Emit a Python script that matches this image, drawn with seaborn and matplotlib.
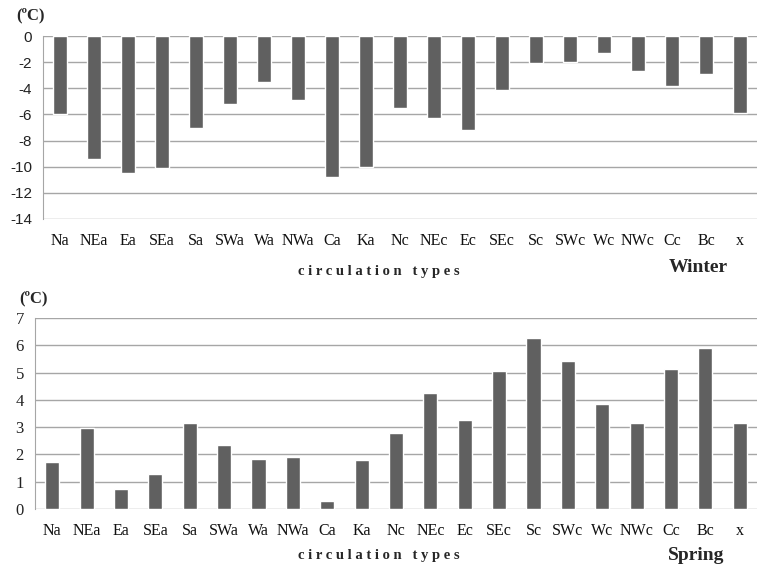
import matplotlib
matplotlib.use("Agg")
import matplotlib.pyplot as plt
import pandas as pd
import seaborn as sns

# circulation types (x axis categories)
types = ["Na", "NEa", "Ea", "SEa", "Sa", "SWa", "Wa", "NWa", "Ca", "Ka",
         "Nc", "NEc", "Ec", "SEc", "Sc", "SWc", "Wc", "NWc", "Cc", "Bc", "x"]

# temperature values (degC)
winter = [-6.0, -9.4, -10.5, -10.1, -7.0, -5.2, -3.5, -4.9, -10.8, -10.0,
          -5.5, -6.3, -7.2, -4.1, -2.1, -2.0, -1.3, -2.7, -3.8, -2.9, -5.9]
spring = [1.72, 2.97, 0.73, 1.28, 3.15, 2.34, 1.84, 1.91, 0.31, 1.81,
          2.79, 4.25, 3.26, 5.05, 6.25, 5.41, 3.85, 3.15, 5.12, 5.9, 3.15]

winter_ticks = list(range(-14, 1, 2))
spring_ticks = list(range(0, 8))

W, H = 757, 567
BAR = "#606060"
GRID = "#a6a6a6"
SERIF = "Liberation Serif"
SANS = "Liberation Sans"


def style_axes(ax, ticks, tick_font, size):
    ax.set_xlim(-0.5, len(types) - 0.5)
    ax.set_ylim(min(ticks), max(ticks))
    ax.set_yticks(ticks)
    ax.set_yticklabels([str(t) for t in ticks], family=tick_font,
                       fontsize=size, color="#222222")
    ax.set_xticks(range(len(types)))
    ax.set_xticklabels(types, family=SERIF, fontsize=11.5, color="#111111")
    ax.tick_params(axis="x", length=0, pad=10)
    ax.tick_params(axis="y", length=5, color=GRID, width=1, pad=3)
    ax.yaxis.grid(True, color=GRID, linewidth=1)
    ax.set_axisbelow(True)
    for side in ["top", "right", "bottom"]:
        ax.spines[side].set_visible(False)
    ax.spines["left"].set_color(GRID)
    ax.set_xlabel("")
    ax.set_ylabel("")


sns.set_style("white")
fig = plt.figure(figsize=(W / 100, H / 100), dpi=100)

# winter panel
ax1 = fig.add_axes([43 / W, 1 - 219 / H, (W - 43) / W, 183 / H])
df_w = pd.DataFrame({"type": types, "value": winter})
sns.barplot(data=df_w, x="type", y="value", color=BAR, width=0.41,
            saturation=1, ax=ax1)
style_axes(ax1, winter_ticks, SANS, 11)

# spring panel
ax2 = fig.add_axes([35 / W, 1 - 509 / H, (W - 35) / W, 191 / H])
df_s = pd.DataFrame({"type": types, "value": spring})
sns.barplot(data=df_s, x="type", y="value", color=BAR, width=0.41,
            saturation=1, ax=ax2)
style_axes(ax2, spring_ticks, SERIF, 12)

# units, axis titles and season labels
unit_kw = dict(family=SERIF, fontsize=12, fontweight="bold", va="center")
fig.text(16 / W, 1 - 15 / H, "(ºC)", **unit_kw)
fig.text(19 / W, 1 - 298 / H, "(ºC)", **unit_kw)

xlab = "c i r c u l a t i o n   t y p e s"
xlab_kw = dict(family=SERIF, fontsize=10.5, fontweight="bold",
               ha="center", va="center")
fig.text(379 / W, 1 - 271 / H, xlab, **xlab_kw)
fig.text(379 / W, 1 - 556 / H, xlab, **xlab_kw)

season_kw = dict(family=SERIF, fontsize=14, fontweight="bold",
                 ha="center", va="center")
fig.text(698 / W, 1 - 268 / H, "Winter", **season_kw)
fig.text(696 / W, 1 - 556 / H, "Spring", **season_kw)

fig.savefig("out.png", dpi=100)
